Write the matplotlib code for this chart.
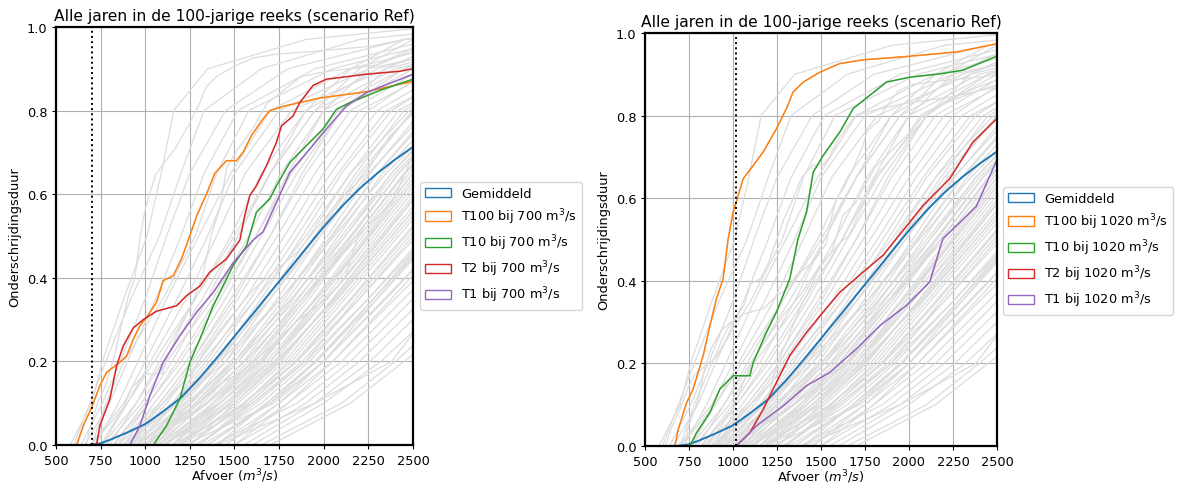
import matplotlib.pyplot as plt
from matplotlib.patches import Patch

plt.rcParams['font.size'] = 9.3

niveaus = [0, 0.1, 0.2, 0.35, 0.5, 0.65, 0.8, 0.9, 0.97, 1.0]

# afvoer (m3/s) per jaar bij bovenstaande niveaus
jaren_afvoer = [
    [580, 700, 760, 880, 1010, 1090, 1160, 1350, 1900, 2600],
    [600, 690, 780, 920, 1080, 1200, 1330, 1650, 2200, 2900],
    [640, 760, 860, 1000, 1120, 1250, 1450, 1800, 2450, 3200],
    [660, 800, 900, 1060, 1200, 1330, 1520, 1950, 2600, 3300],
    [700, 780, 880, 1100, 1280, 1400, 1580, 2050, 2700, 3400],
    [720, 850, 960, 1120, 1300, 1480, 1700, 2150, 2800, 3500],
    [690, 880, 1000, 1180, 1350, 1500, 1750, 2250, 3000, 3800],
    [760, 900, 1030, 1230, 1400, 1560, 1820, 2350, 3000, 3800],
    [800, 950, 1080, 1280, 1480, 1650, 1900, 2300, 2900, 3500],
    [820, 1000, 1150, 1350, 1520, 1700, 1950, 2400, 3100, 3700],
    [780, 980, 1120, 1380, 1580, 1760, 2000, 2450, 3100, 3700],
    [850, 1020, 1180, 1400, 1620, 1820, 2080, 2500, 3200, 3800],
    [880, 1050, 1230, 1450, 1650, 1850, 2100, 2450, 2900, 3500],
    [830, 1080, 1260, 1480, 1700, 1900, 2150, 2550, 3200, 3800],
    [900, 1100, 1280, 1520, 1740, 1950, 2200, 2650, 3300, 3900],
    [920, 1120, 1300, 1560, 1780, 2000, 2250, 2600, 3100, 3700],
    [870, 1150, 1340, 1590, 1820, 2040, 2300, 2700, 3300, 3900],
    [950, 1170, 1360, 1620, 1850, 2080, 2350, 2800, 3400, 4000],
    [980, 1200, 1400, 1650, 1880, 2100, 2380, 2750, 3200, 3800],
    [930, 1220, 1420, 1680, 1920, 2150, 2420, 2850, 3400, 4000],
    [1000, 1250, 1450, 1700, 1950, 2180, 2450, 2900, 3500, 4100],
    [1020, 1260, 1480, 1740, 1980, 2220, 2500, 2950, 3500, 4100],
    [960, 1230, 1500, 1780, 2020, 2260, 2550, 3000, 3600, 4200],
    [1050, 1300, 1520, 1800, 2050, 2300, 2600, 3050, 3600, 4200],
    [1080, 1320, 1550, 1830, 2080, 2330, 2650, 3100, 3700, 4300],
    [1000, 1340, 1580, 1860, 2120, 2380, 2700, 3150, 3700, 4300],
    [1100, 1380, 1600, 1880, 2150, 2420, 2750, 3200, 3800, 4400],
    [1120, 1400, 1640, 1920, 2180, 2450, 2800, 3300, 3900, 4500],
    [1060, 1420, 1660, 1950, 2220, 2500, 2850, 3350, 3900, 4500],
    [1150, 1450, 1700, 1980, 2260, 2540, 2900, 3400, 4000, 4600],
    [1180, 1470, 1720, 2020, 2300, 2580, 2950, 3450, 4000, 4600],
    [1100, 1500, 1750, 2050, 2340, 2620, 3000, 3500, 4100, 4700],
    [900, 1150, 1400, 1700, 1960, 2200, 2500, 2900, 3400, 4000],
    [1000, 1200, 1420, 1760, 2060, 2350, 2700, 3100, 3600, 4200],
    [1050, 1280, 1500, 1820, 2100, 2380, 2720, 3200, 3800, 4400],
    [950, 1300, 1560, 1880, 2200, 2480, 2800, 3250, 3800, 4400],
    [1150, 1380, 1620, 1900, 2160, 2420, 2760, 3150, 3700, 4300],
    [1100, 1420, 1700, 2000, 2280, 2560, 2900, 3400, 4000, 4600],
    [1200, 1480, 1740, 2060, 2360, 2660, 3000, 3500, 4100, 4800],
    [1250, 1560, 1800, 2100, 2400, 2700, 3050, 3550, 4200, 4800],
    [1000, 1350, 1640, 1960, 2260, 2540, 2860, 3300, 3850, 4500],
    [1300, 1620, 1900, 2180, 2480, 2780, 3150, 3650, 4300, 5000],
    [1180, 1550, 1850, 2200, 2520, 2850, 3250, 3800, 4400, 5000],
    [850, 1100, 1320, 1620, 1900, 2150, 2480, 2900, 3500, 4100],
    [1200, 1520, 1780, 2080, 2380, 2680, 3050, 3600, 4200, 4800],
    [1250, 1550, 1820, 2120, 2420, 2720, 3100, 3650, 4200, 4800],
    [1150, 1580, 1850, 2160, 2460, 2780, 3150, 3700, 4300, 4900],
    [1300, 1600, 1880, 2200, 2500, 2820, 3200, 3800, 4400, 5000],
    [1280, 1650, 1920, 2250, 2560, 2880, 3300, 3900, 4500, 5100],
    [1350, 1700, 1960, 2300, 2620, 2950, 3350, 3950, 4500, 5100],
    [1220, 1720, 2000, 2340, 2680, 3000, 3400, 4000, 4600, 5200],
    [1400, 1750, 2050, 2400, 2750, 3100, 3500, 4100, 4700, 5300],
    [1450, 1800, 2100, 2450, 2800, 3150, 3600, 4200, 4800, 5400],
    [1380, 1850, 2150, 2500, 2860, 3220, 3700, 4300, 4900, 5500],
    [1500, 1900, 2200, 2560, 2920, 3300, 3800, 4400, 5000, 5600],
    [1550, 1950, 2260, 2620, 3000, 3400, 3900, 4500, 5100, 5700],
    [1600, 2000, 2320, 2700, 3100, 3500, 4000, 4600, 5200, 5800],
    [1650, 2100, 2400, 2800, 3200, 3600, 4100, 4700, 5300, 5900],
    [1700, 2150, 2450, 2900, 3300, 3700, 4200, 4800, 5400, 6000],
    [1450, 1750, 2000, 2300, 2600, 2950, 3350, 3900, 4500, 5200],
    [1350, 1680, 1960, 2280, 2600, 2900, 3300, 3800, 4400, 5000],
    [1400, 1950, 2380, 2650, 3100, 3500, 4000, 4600, 5200, 5800],
    [1050, 1350, 1600, 1900, 2180, 2450, 2800, 3250, 3800, 4400],
    [1150, 1420, 1680, 1980, 2250, 2520, 2850, 3300, 3900, 4500],
    [1250, 1500, 1760, 2050, 2330, 2620, 2980, 3450, 4000, 4600],
    [950, 1250, 1500, 1820, 2120, 2400, 2750, 3200, 3800, 4400],
    [1100, 1450, 1730, 2070, 2380, 2680, 3050, 3550, 4100, 4700],
    [1300, 1580, 1840, 2150, 2450, 2760, 3150, 3650, 4200, 4900],
    [1200, 1600, 1900, 2250, 2580, 2900, 3300, 3800, 4400, 5000],
    [1400, 1680, 1950, 2280, 2580, 2880, 3250, 3750, 4300, 5000],
    [1000, 1300, 1560, 1880, 2180, 2460, 2780, 3200, 3700, 4300],
    [880, 1180, 1450, 1760, 2040, 2300, 2620, 3050, 3600, 4200],
    [1500, 1800, 2050, 2380, 2700, 3000, 3400, 3950, 4600, 5300],
    [1320, 1700, 2000, 2350, 2680, 3000, 3400, 3900, 4500, 5100],
    [1080, 1380, 1650, 1960, 2240, 2500, 2820, 3250, 3800, 4400],
    [1180, 1450, 1700, 2020, 2320, 2600, 2950, 3400, 3950, 4600],
    [920, 1180, 1400, 1700, 1980, 2250, 2580, 3000, 3550, 4200],
    [1050, 1280, 1520, 1850, 2150, 2420, 2750, 3150, 3650, 4300],
    [760, 950, 1100, 1320, 1520, 1700, 1900, 2150, 2450, 3000],
    [820, 1020, 1200, 1420, 1620, 1800, 2000, 2250, 2600, 3200],
    [900, 1080, 1260, 1500, 1700, 1880, 2100, 2350, 2700, 3300],
    [700, 900, 1050, 1280, 1500, 1700, 1950, 2200, 2500, 3100],
]

# gemiddelde lijn
gem_afvoer = [680, 750, 800, 900, 1000, 1100, 1200, 1300, 1400, 1500, 1600,
              1700, 1800, 1900, 2000, 2100, 2200, 2300, 2400, 2500]
gem_duur = [0.0, 0.004, 0.012, 0.03, 0.05, 0.08, 0.113, 0.158, 0.208, 0.26,
            0.312, 0.365, 0.417, 0.47, 0.522, 0.57, 0.613, 0.65, 0.683, 0.713]

# geselecteerde jaren bij 700 m3/s
t100_700_x = [616, 653, 700, 746, 784, 858, 896, 933, 970, 1007, 1063, 1101, 1157, 1203,
              1241, 1290, 1343, 1390, 1455, 1511, 1548, 1595, 1660, 1698, 1772, 1978, 2239, 2500]
t100_700_y = [0, 0.046, 0.09, 0.142, 0.174, 0.198, 0.213, 0.253, 0.285, 0.305, 0.341, 0.393,
              0.405, 0.445, 0.49, 0.55, 0.6, 0.65, 0.68, 0.68, 0.7, 0.74, 0.78, 0.80, 0.81,
              0.83, 0.845, 0.87]
t10_700_x = [1045, 1119, 1194, 1250, 1306, 1381, 1418, 1493, 1567, 1623, 1698, 1735, 1810,
             1903, 1996, 2071, 2146, 2332, 2500]
t10_700_y = [0, 0.046, 0.11, 0.198, 0.253, 0.333, 0.365, 0.43, 0.476, 0.557, 0.589, 0.62,
             0.676, 0.716, 0.756, 0.803, 0.819, 0.851, 0.875]
t2_700_x = [727, 746, 802, 840, 877, 933, 989, 1063, 1175, 1231, 1306, 1362, 1455, 1530,
            1558, 1586, 1623, 1679, 1735, 1763, 1828, 1866, 1940, 2015, 2239, 2426, 2500]
t2_700_y = [0, 0.046, 0.11, 0.19, 0.237, 0.28, 0.30, 0.32, 0.333, 0.357, 0.38, 0.414, 0.445,
            0.49, 0.55, 0.597, 0.62, 0.668, 0.724, 0.763, 0.787, 0.819, 0.86, 0.875, 0.887,
            0.894, 0.90]
t1_700_x = [914, 970, 1026, 1101, 1194, 1287, 1381, 1493, 1604, 1660, 1735, 1810, 1922,
            2015, 2127, 2239, 2500]
t1_700_y = [0, 0.046, 0.118, 0.198, 0.261, 0.317, 0.365, 0.436, 0.49, 0.51, 0.58, 0.652,
            0.708, 0.756, 0.811, 0.843, 0.887]

# geselecteerde jaren bij 1020 m3/s
t100_1020_x = [670, 689, 737, 774, 831, 869, 906, 944, 973, 1001, 1058, 1115, 1172, 1247,
               1304, 1342, 1399, 1493, 1607, 1739, 1985, 2269, 2500]
t100_1020_y = [0, 0.04, 0.105, 0.138, 0.219, 0.291, 0.356, 0.405, 0.502, 0.566, 0.647,
               0.679, 0.712, 0.768, 0.817, 0.857, 0.881, 0.905, 0.926, 0.935, 0.943, 0.954, 0.974]
t10_1020_x = [755, 793, 869, 926, 1001, 1096, 1115, 1190, 1247, 1323, 1370, 1418, 1456,
              1512, 1607, 1683, 1777, 1872, 2004, 2175, 2307, 2500]
t10_1020_y = [0, 0.032, 0.081, 0.138, 0.17, 0.17, 0.202, 0.275, 0.324, 0.405, 0.502, 0.566,
              0.663, 0.703, 0.76, 0.817, 0.849, 0.881, 0.893, 0.901, 0.91, 0.944]
t2_1020_x = [1020, 1096, 1172, 1247, 1323, 1418, 1512, 1607, 1739, 1853, 1929, 2080, 2231,
             2364, 2500]
t2_1020_y = [0, 0.032, 0.089, 0.154, 0.219, 0.275, 0.324, 0.372, 0.421, 0.462, 0.502,
             0.582, 0.647, 0.736, 0.793]
t1_1020_x = [1020, 1134, 1285, 1418, 1550, 1701, 1834, 1985, 2118, 2193, 2383, 2500]
t1_1020_y = [0, 0.049, 0.097, 0.146, 0.178, 0.235, 0.291, 0.34, 0.397, 0.502, 0.58, 0.693]

drempels = [700, 1020]
selecties = [
    [(t100_700_x, t100_700_y), (t10_700_x, t10_700_y), (t2_700_x, t2_700_y), (t1_700_x, t1_700_y)],
    [(t100_1020_x, t100_1020_y), (t10_1020_x, t10_1020_y), (t2_1020_x, t2_1020_y), (t1_1020_x, t1_1020_y)],
]
namen = ['T100', 'T10', 'T2', 'T1']
kleuren = ['#ff7f0e', '#2ca02c', '#d62728', '#9467bd']

fig = plt.figure(figsize=(11.78, 4.85), dpi=100)
posities = [[0.0475, 0.0804, 0.3031, 0.862], [0.5475, 0.0784, 0.2988, 0.8515]]
legend_pos = [(0.3565, 0.6227), (0.8514, 0.6124)]

for i in range(2):
    ax = fig.add_axes(posities[i])
    ax.grid(True, color='#b0b0b0', lw=0.8)
    ax.set_axisbelow(True)
    for rij in jaren_afvoer:
        ax.plot(rij, niveaus, color='#dcdcdc', lw=0.9)
    for sel in selecties:
        for x, y in sel:
            ax.plot(x, y, color='#dcdcdc', lw=0.9)
    ax.plot(gem_afvoer, gem_duur, color='#1f77b4', lw=1.4)
    for (x, y), c in zip(selecties[i], kleuren):
        ax.plot(x, y, color=c, lw=1.1)
    ax.axvline(drempels[i], color='k', ls=':', lw=1.4)
    ax.set_xlim(500, 2500)
    ax.set_ylim(0, 1)
    for s in ax.spines.values():
        s.set_linewidth(1.6)
    ax.tick_params(length=3.2, pad=3)
    ax.set_title('Alle jaren in de 100-jarige reeks (scenario Ref)', fontsize=11.2, pad=5)
    ax.set_xlabel('Afvoer ($m^3/s$)', labelpad=0)
    ax.set_ylabel('Onderschrijdingsduur')

    handles = [Patch(facecolor='none', edgecolor='#1f77b4', label='Gemiddeld')]
    for n, c in zip(namen, kleuren):
        handles.append(Patch(facecolor='none', edgecolor=c,
                             label=n + ' bij ' + str(drempels[i]) + ' m$^3$/s'))
    fig.legend(handles=handles, loc='upper left', bbox_to_anchor=legend_pos[i],
               bbox_transform=fig.transFigure, borderaxespad=0)

fig.savefig('out.png', dpi=100)
